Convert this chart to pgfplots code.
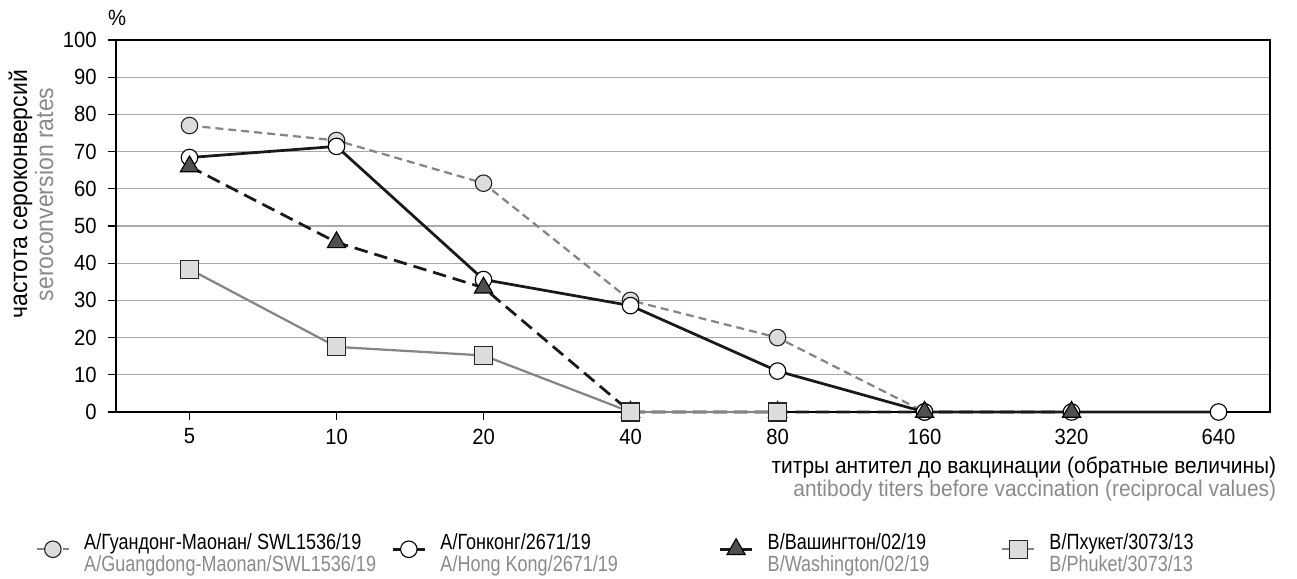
\documentclass[border=0pt]{standalone}
\usepackage{fontspec}
\setmainfont{Liberation Sans}[FakeStretch=0.92]
\newfontfamily\legfont{Liberation Sans}[FakeStretch=0.82]
\usepackage{pgfplots}
\pgfplotsset{compat=1.18}
\definecolor{gridc}{HTML}{AAAAAA}
\definecolor{lg}{HTML}{DCDCDC}
\definecolor{mg}{HTML}{858585}
\definecolor{dg}{HTML}{505050}
\definecolor{txtg}{HTML}{8A8A8A}
\newcommand{\ff}{\fontsize{8.8pt}{9pt}\selectfont}
\newcommand{\lf}{\legfont\fontsize{8.8pt}{8.8pt}\selectfont}
\newcommand{\xf}{\fontsize{9.1pt}{9pt}\selectfont}
\newcommand{\yf}{\fontsize{10pt}{9pt}\selectfont}
\begin{document}
\begin{tikzpicture}[font=\ff]
\begin{axis}[
 scale only axis, width=461.6pt, height=148.8pt,
 xmin=-0.5, xmax=7.35, ymin=0, ymax=100,
 xtick={0,...,7}, xticklabels={5,10,20,40,80,160,320,640},
 ytick={0,10,...,100},
 tick align=outside, tick pos=left,
 major tick length=3.2pt,
 ymajorgrids, grid style={gridc, line width=0.5pt},
 axis line style={black, line width=0.5pt},
 tick style={black, line width=0.5pt},
 /pgf/number format/assume math mode=true,
 ticklabel style={font=\ff},
 yticklabel style={xshift=-1pt},
 clip=false,
 legend image code/.code={\draw[mark repeat=2,mark phase=2] plot coordinates {(0pt,0pt) (6.5pt,0pt) (13pt,0pt)};},
 legend style={draw=none, fill=none, at={(-0.0702,-0.369)}, anchor=west, legend columns=4,
   cells={anchor=west}, inner sep=0pt, font=\lf},
]
\addplot[mg, line width=0.9pt, dash pattern=on 3.2pt off 2pt, mark=*, mark size=3.3pt,
  mark options={solid, fill=lg, draw=black!85, line width=0.45pt}]
  coordinates {(0,77) (1,73) (2,61.5) (3,30) (4,20) (5,0)};
\addlegendentry{\makebox[124.4pt][l]{\hspace{3.6pt}\begin{tabular}{@{}l@{}}А/Гуандонг-Маонан/ SWL1536/19\\\textcolor{txtg}{A/Guangdong-Maonan/SWL1536/19}\end{tabular}}}
\addplot[black!90, line width=1.1pt, mark=*, mark size=3.3pt,
  mark options={solid, fill=white, draw=black, line width=0.45pt}]
  coordinates {(0,68.4) (1,71.4) (2,35.6) (3,28.6) (4,11) (5,0) (6,0) (7,0)};
\addlegendentry{\makebox[112.8pt][l]{\hspace{3.6pt}\begin{tabular}{@{}l@{}}А/Гонконг/2671/19\\\textcolor{txtg}{A/Hong Kong/2671/19}\end{tabular}}}
\addplot[black!90, line width=1.1pt, dash pattern=on 5.4pt off 2.8pt, mark=triangle*, mark size=4.2pt,
  mark options={solid, fill=dg, draw=black, line width=0.45pt}]
  coordinates {(0,66) (1,45.6) (2,33.4) (3,0) (4,0) (5,0) (6,0)};
\addlegendentry{\makebox[94.8pt][l]{\hspace{3.6pt}\begin{tabular}{@{}l@{}}В/Вашингтон/02/19\\\textcolor{txtg}{B/Washington/02/19}\end{tabular}}}
\addplot[mg, line width=0.9pt, mark=square*, mark size=3.6pt,
  mark options={solid, fill=lg, draw=black!85, line width=0.45pt}]
  coordinates {(0,38.4) (1,17.5) (2,15.2) (3,0) (4,0)};
\addlegendentry{\hspace{3.6pt}\begin{tabular}{@{}l@{}}В/Пхукет/3073/13\\\textcolor{txtg}{B/Phuket/3073/13}\end{tabular}}
\node[font=\ff] at (rel axis cs:0.001,1.059) {\%};
\node[rotate=90, align=center, font=\yf] at (rel axis cs:-0.0737,0.585) {частота сероконверсий\\\textcolor{txtg}{seroconversion rates}};
\node[anchor=east, align=right, font=\xf] at (rel axis cs:1.013,-0.18) {титры антител до вакцинации (обратные величины)\\\textcolor{txtg}{antibody titers before vaccination (reciprocal values)}};
\end{axis}
\pgfresetboundingbox
\path[use as bounding box] (-46.4pt,-66.8pt) rectangle (472.4pt,164.8pt);
\end{tikzpicture}
\end{document}
